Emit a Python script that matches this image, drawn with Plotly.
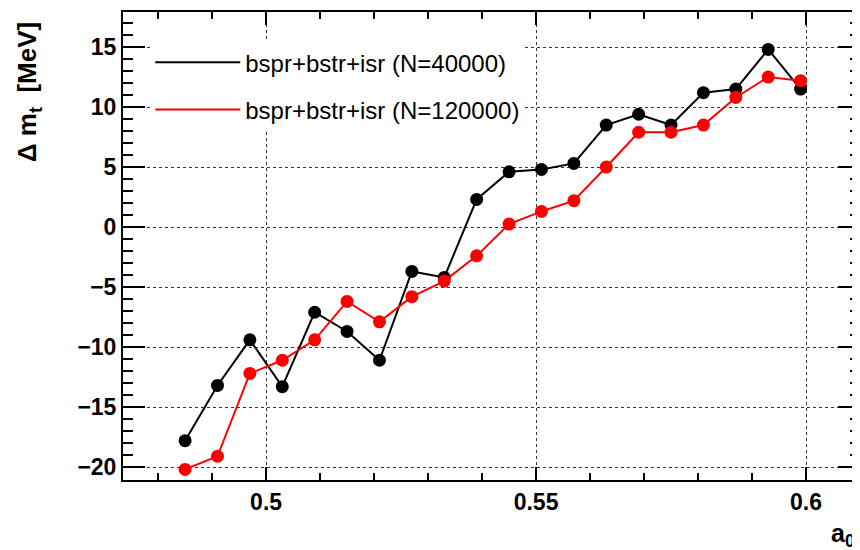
import plotly.graph_objects as go

# ---- data ----
a0 = [0.485, 0.491, 0.497, 0.503, 0.509, 0.515, 0.521, 0.527, 0.533, 0.539,
      0.545, 0.551, 0.557, 0.563, 0.569, 0.575, 0.581, 0.587, 0.593, 0.599]
dm_40k = [-17.8, -13.2, -9.4, -13.3, -7.1, -8.7, -11.1, -3.7, -4.2, 2.3,
          4.6, 4.8, 5.3, 8.5, 9.4, 8.5, 11.2, 11.5, 14.8, 11.5]
dm_120k = [-20.2, -19.1, -12.2, -11.1, -9.4, -6.2, -7.9, -5.8, -4.5, -2.4,
           0.25, 1.3, 2.2, 5.0, 7.9, 7.9, 8.5, 10.8, 12.5, 12.2]
names = ["bspr+bstr+isr (N=40000)", "bspr+bstr+isr (N=120000)"]
colors = ["#000000", "#ff0000"]
series = [dm_40k, dm_120k]

fig = go.Figure()
for i, (ys, nm, c) in enumerate(zip(series, names, colors)):
    fig.add_trace(go.Scatter(
        x=a0, y=ys, mode="lines+markers", name=nm, showlegend=False,
        line=dict(color=c, width=2),
        marker=dict(color=c, size=13, symbol="circle"),
    ))
# legend-only entries (line only, as in the reference)
for i, (nm, c) in enumerate(zip(names, colors)):
    fig.add_trace(go.Scatter(
        x=[None], y=[None], mode="lines", name=nm, legendgroup=f"g{i}",
        line=dict(color=c, width=2),
    ))

FAM = "Liberation Sans, Arial, sans-serif"
bold = dict(family=FAM, size=23, color="black", weight="bold")

# page body adds an 8px offset; margins compensate so the frame sits at
# x 123..860, y 12..480 in the browser window
fig.update_layout(
    width=860, height=550,
    margin=dict(l=115, r=8, t=4, b=78),
    paper_bgcolor="white", plot_bgcolor="white",
    showlegend=True,
    legend=dict(
        x=0.037, y=0.94, xanchor="left", yanchor="top",
        bgcolor="white", borderwidth=0, itemwidth=85,
        font=dict(family=FAM, size=24, color="black"),
        traceorder="grouped", tracegroupgap=13,
    ),
    # white legend pad (as in the ROOT TLegend box) hiding the grid behind it
    shapes=[
        dict(type="rect", xref="paper", yref="paper", x0=0.003, x1=0.575,
             y0=0.7585, y1=0.9466, fillcolor="white", line=dict(width=0),
             layer="between"),
    ],
    xaxis=dict(
        range=[0.4735, 0.6100], tick0=0.5, dtick=0.05, automargin=False,
        ticks="inside", ticklen=13, tickwidth=2, tickcolor="black",
        showline=True, linewidth=2, linecolor="black", mirror="ticks",
        showgrid=True, gridcolor="#333333", gridwidth=1, griddash="dot",
        zeroline=False, tickfont=bold,
        minor=dict(dtick=0.01, tick0=0.5, ticks="inside", ticklen=7, tickwidth=2,
                   tickcolor="black", showgrid=False),
    ),
    yaxis=dict(
        range=[-21.08, 17.92], tick0=0, dtick=5, automargin=False,
        ticks="inside", ticklen=22, tickwidth=2, tickcolor="black",
        showline=True, linewidth=2, linecolor="black", mirror="ticks",
        showgrid=True, gridcolor="#333333", gridwidth=1, griddash="dot",
        zeroline=False, tickfont=bold,
        minor=dict(dtick=1, tick0=0, ticks="inside", ticklen=10, tickwidth=2,
                   tickcolor="black", showgrid=False),
    ),
    annotations=[
        dict(text="Δ m<sub>t</sub>  [MeV]", xref="paper", yref="paper",
             x=-0.128, y=0.982, xanchor="center", yanchor="top", textangle=-90,
             showarrow=False,
             font=dict(family=FAM, size=26, color="black", weight="bold")),
        dict(text="a<sub>0</sub>", xref="paper", yref="paper",
             x=0.996, y=-0.118, xanchor="right", yanchor="middle",
             showarrow=False,
             font=dict(family=FAM, size=25, color="black", weight="bold")),
    ],
)

fig.write_html("out.html")
